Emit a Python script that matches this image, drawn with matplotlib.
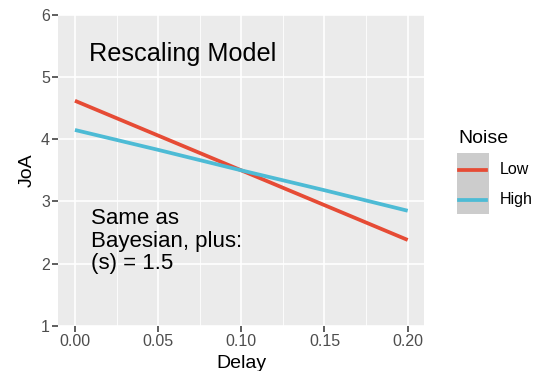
import matplotlib
matplotlib.use("Agg")
import matplotlib.pyplot as plt
from matplotlib.patches import Rectangle
from matplotlib.lines import Line2D

plt.rcParams['font.family'] = ['Liberation Sans', 'DejaVu Sans']

# values
delay = [0.00, 0.05, 0.10, 0.15, 0.20]
joa_low = [4.62, 4.06, 3.50, 2.94, 2.38]
joa_high = [4.15, 3.83, 3.50, 3.18, 2.85]
noise_levels = ["Low", "High"]
colors = ["#E64B35", "#4DBBD5"]

x_ticks = [0.00, 0.05, 0.10, 0.15, 0.20]
x_minor = [0.025, 0.075, 0.125, 0.175]
y_ticks = [1, 2, 3, 4, 5, 6]

W, H = 537, 371
fig = plt.figure(figsize=(W / 100, H / 100), dpi=100)
ax = fig.add_axes([58.3 / W, 1 - 325.7 / H, (424.3 - 58.3) / W, (325.7 - 15) / H])
ax.set_facecolor("#EBEBEB")

for xm in x_minor:
    ax.axvline(xm, color="white", lw=0.6, zorder=0)
for xt in x_ticks:
    ax.axvline(xt, color="white", lw=1.2, zorder=0)
for yt in y_ticks:
    ax.axhline(yt, color="white", lw=1.2, zorder=0)

for vals, c in zip([joa_low, joa_high], colors):
    ax.plot(delay, vals, color=c, lw=2.7, solid_capstyle="butt", zorder=3)

ax.set_xlim(-0.01, 0.21)
ax.set_ylim(1, 6)
ax.set_xticks(x_ticks)
ax.set_xticklabels(["%.2f" % v for v in x_ticks])
ax.set_yticks(y_ticks)
for s in ax.spines.values():
    s.set_visible(False)
ax.tick_params(colors="#333333", labelcolor="#4D4D4D", labelsize=11.5,
               length=4, width=1.1, pad=2)

ax.set_xlabel("Delay", fontsize=14, labelpad=4)
ax.set_ylabel("JoA", fontsize=14, labelpad=4)

ax.text(0.0082, 5.26, "Rescaling Model", fontsize=18.2, va="baseline", ha="left")
ax.text(0.0094, 2.89, "Same as\nBayesian, plus:\n(s) = 1.5", fontsize=16,
        va="top", ha="left", linespacing=1.08)

# legend drawn by hand in ggplot style
def fx(px):
    return px / W

def fy(py):
    return 1 - py / H

fig.text(fx(458), fy(143), "Noise", fontsize=14, va="baseline", ha="left")
fig.patches.append(Rectangle((fx(456.7), fy(214)), fx(32.6), (61) / H,
                             transform=fig.transFigure, facecolor="#CCCCCC",
                             edgecolor="none", figure=fig))
for i, (lab, c) in enumerate(zip(noise_levels, colors)):
    yy = 170 + 30 * i
    fig.lines.append(Line2D([fx(459), fx(486)], [fy(yy), fy(yy)], color=c, lw=2.7,
                            transform=fig.transFigure, figure=fig))
    fig.text(fx(500), fy(yy), lab, fontsize=11.5, va="center", ha="left")

fig.savefig("out.png", dpi=100)
